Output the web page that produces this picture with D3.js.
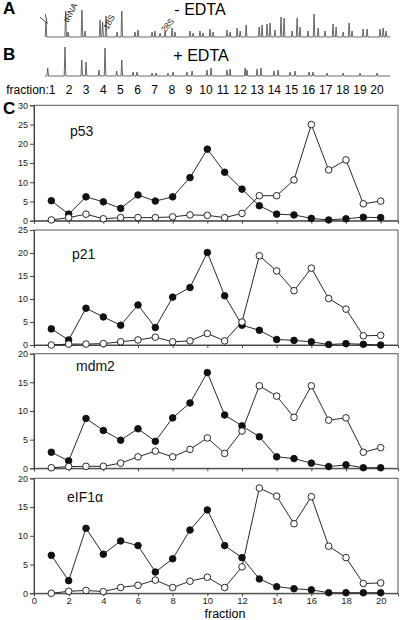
<!DOCTYPE html>
<html><head><meta charset="utf-8">
<script src="https://cdn.jsdelivr.net/npm/d3@7"></script>
<style>body{margin:0;background:#fff}svg{display:block}text{font-family:"Liberation Sans",Arial,Helvetica,sans-serif}</style>
</head><body>
<script>
// ---------- data ----------
const fractions = d3.range(1, 21);
const p53_minus = [5.2,1.7,6.2,4.9,3.2,6.7,5.1,6.2,11.2,18.6,12.6,8.2,3.9,1.7,1.5,0.6,0.2,0.5,0.9,0.8];
const p53_plus  = [0.2,0.8,1.7,0.5,0.8,0.8,0.8,1.0,1.5,1.4,0.8,1.9,6.5,6.5,10.6,25.0,13.2,15.8,4.4,5.1];
const p21_minus = [3.5,1.1,8.0,6.1,4.3,8.7,3.8,10.4,12.5,20.1,10.7,4.3,3.2,1.2,1.0,0.7,0.1,0.3,0.15,0.0];
const p21_plus  = [0.0,0.2,0.2,0.3,0.7,1.1,1.7,0.7,0.9,2.5,0.9,5.0,19.4,16.1,11.8,16.7,10.1,7.8,2.0,2.1];
const mdm2_minus = [2.8,1.3,8.7,6.6,4.9,6.9,4.7,8.8,11.4,16.7,9.3,7.4,5.5,2.0,1.7,0.9,0.3,0.6,0.1,0.1];
const mdm2_plus  = [0.1,0.3,0.35,0.35,0.9,2.0,3.0,2.0,3.3,5.3,2.6,6.5,14.4,12.6,8.9,14.4,8.4,8.8,2.8,3.6];
const eif_minus = [6.6,2.2,11.3,6.8,9.1,8.3,3.7,6.0,11.0,14.5,8.3,6.2,2.5,1.15,0.8,0.6,0.1,0.1,0.1,0.1];
const eif_plus  = [0.0,0.35,0.5,0.3,1.0,1.4,2.3,1.0,2.1,2.8,1.0,4.6,18.3,16.9,12.1,16.8,8.2,6.2,1.7,1.8];
const panelNames = ["p53","p21","mdm2","eIF1\u03b1"];
const panelMax = [30,25,20,20];
const yTicks = [[0,5,10,15,20,25,30],[0,5,10,15,20,25],[0,5,10,15,20],[0,5,10,15,20]];
const xTicks = [0,2,4,6,8,10,12,14,16,18,20];

// gradient profile peaks: [fraction position, height]
const peaksA = [[0.65,15],[1.80,26],[1.94,5],[2.75,27],[2.93,6],[3.81,17],[3.96,15],[4.16,21],[4.80,5],[5.08,26],
 [5.85,5],[6.03,7],[6.85,5],[7.02,6],[7.32,4],[7.61,5],[8.02,9],[8.19,5],[9.07,6],[9.25,4],[9.65,6],[9.83,4],
 [10.24,8],[10.42,5],[11.23,7],[11.41,5],[11.82,9],[12.0,6],[12.35,12],[13.11,10],[13.28,12],[13.57,13],[13.75,14],
 [14.04,7],[14.39,20],[14.57,19],[15.04,6],[15.33,19],[15.50,10],[15.97,6],[16.32,23],[16.56,9],[16.96,6],
 [17.43,13],[17.61,10],[18.02,5],[18.37,14],[18.54,6],[19.19,8],[19.42,8],[20.18,8],[20.36,9],[20.53,6]];
const peaksB = [[0.75,8],[1.76,29],[2.74,16],[2.99,14],[3.75,6],[4.10,28],[4.78,5],[5.08,16],[5.74,4],[5.97,4],
 [6.85,3],[7.08,3],[7.78,3],[8.08,4],[8.89,4],[9.19,5],[10.06,6],[10.30,8],[11.23,6],[11.41,7],[12.29,8],[12.40,6],
 [12.99,7],[13.22,8],[13.98,5],[14.22,6],[14.92,4],[15.21,5],[16.03,4],[16.26,4],[17.08,3],[18.02,3],[19.01,3],[20.0,3]];
const traceRange = [0.59, 20.77];

// ---------- drawing ----------
const W = 400, H = 620;
const svg = d3.select("body").append("svg").attr("width", W).attr("height", H);

// traces
const xt = d3.scaleLinear().domain([1,20]).range([52,377]);
const yA = d3.scaleLinear().domain([0,30]).range([37,7]);
const yB = d3.scaleLinear().domain([0,30]).range([76,46]);
function tracePath(peaks, ys){
  const pts = [[xt(traceRange[0]), ys(0)]];
  peaks.slice().sort((a,b)=>a[0]-b[0]).forEach(p=>{
    const cx = xt(p[0]);
    pts.push([cx-0.8, ys(0)],[cx, ys(p[1])],[cx+0.8, ys(0)]);
  });
  pts.push([xt(traceRange[1]), ys(0)]);
  return d3.line()(pts);
}
svg.append("path").attr("d", tracePath(peaksA, yA)).attr("fill","none").attr("stroke","#444").attr("stroke-width",0.8);
svg.append("path").attr("d", tracePath(peaksB, yB)).attr("fill","none").attr("stroke","#444").attr("stroke-width",0.8);

// annotations (anchored at text start, rotated)
function rot(txt, px, py, ang, size){
  svg.append("text").attr("transform",`translate(${px},${py}) rotate(${ang})`)
    .attr("font-size",size).attr("fill","#222").text(txt);
}
rot("tRNA", xt(1.95), 23, -62, 8.5);
rot("18S", xt(4.28), 30, -62, 8.5);
rot("28S", xt(7.6), 33, -50, 8.5);
svg.append("path").attr("transform",`translate(${xt(0.6)},${yA(17)}) rotate(-30)`)
  .attr("d","M-3,-5 L0,4 L3,-5").attr("fill","none").attr("stroke","#333").attr("stroke-width",0.8);

svg.append("text").attr("x",3).attr("y",14).attr("font-size",17).attr("font-weight","bold").text("A");
svg.append("text").attr("x",3).attr("y",60).attr("font-size",17).attr("font-weight","bold").text("B");
svg.append("text").attr("x",3).attr("y",114).attr("font-size",17).attr("font-weight","bold").text("C");
svg.append("text").attr("x",200).attr("y",15).attr("text-anchor","middle").attr("font-size",16).text("- EDTA");
svg.append("text").attr("x",201).attr("y",61).attr("text-anchor","middle").attr("font-size",16).text("+ EDTA");
svg.append("text").attr("x",xt(1)+3.5).attr("y",94).attr("text-anchor","end").attr("font-size",12).text("fraction:1");
svg.selectAll(".fl").data(fractions.slice(1)).enter().append("text")
  .attr("x",d=>xt(d)).attr("y",94).attr("text-anchor","middle").attr("font-size",12).text(d=>d);

// panels
const x = d3.scaleLinear().domain([0,21]).range([34,398]);
const panelTop = [105.3,230,353.7,478.3];
const panelBot = [220.7,345,468.3,593.3];
const series = [[p53_minus,p53_plus],[p21_minus,p21_plus],[mdm2_minus,mdm2_plus],[eif_minus,eif_plus]];

panelNames.forEach((name,i)=>{
  const y = d3.scaleLinear().domain([0,panelMax[i]]).range([panelBot[i],panelTop[i]]);
  const g = svg.append("g");
  g.append("rect").attr("x",x(0)).attr("y",y(panelMax[i])).attr("width",x(21)-x(0)).attr("height",y(0)-y(panelMax[i]))
    .attr("fill","none").attr("stroke","#555").attr("stroke-width",1);
  const ya = g.append("g").attr("transform",`translate(${x(0)},0)`)
    .call(d3.axisLeft(y).tickValues(yTicks[i]).tickSize(4).tickPadding(2));
  ya.selectAll("text").attr("font-size",9).attr("fill","#222").style("font-family",'"Liberation Sans",Arial,sans-serif');
  ya.selectAll("line,path").attr("stroke","#444");
  const xa = g.append("g").attr("transform",`translate(0,${y(0)})`)
    .call(d3.axisBottom(x).tickValues(xTicks).tickSize(3).tickPadding(1).tickFormat(i===3? d3.format("d") : ()=>""));
  xa.selectAll("text").attr("font-size",9.5).attr("fill","#222").style("font-family",'"Liberation Sans",Arial,sans-serif');
  xa.selectAll("line,path").attr("stroke","#444");
  const line = d3.line().x((d,k)=>x(fractions[k])).y(d=>y(d));
  series[i].forEach((vals,s)=>{
    g.append("path").attr("d",line(vals)).attr("fill","none").attr("stroke","#111").attr("stroke-width",0.9);
  });
  series[i].forEach((vals,s)=>{
    g.selectAll(null).data(vals).enter().append("circle")
      .attr("cx",(d,k)=>x(fractions[k])).attr("cy",d=>y(d)).attr("r",3.3)
      .attr("fill", s===0 ? "#111" : "#fff").attr("stroke","#111").attr("stroke-width",0.9);
  });
  const lx = [70,72,76,67][i], lyv = [panelMax[i]*0.73, panelMax[i]*0.75, panelMax[i]*0.85, panelMax[i]*0.79][i];
  g.append("text").attr("x",lx).attr("y",y(lyv)).attr("font-size",14).attr("fill","#111").text(name);
});
svg.append("text").attr("x",225).attr("y",618).attr("text-anchor","middle").attr("font-size",12.5).text("fraction");
</script>
</body></html>
